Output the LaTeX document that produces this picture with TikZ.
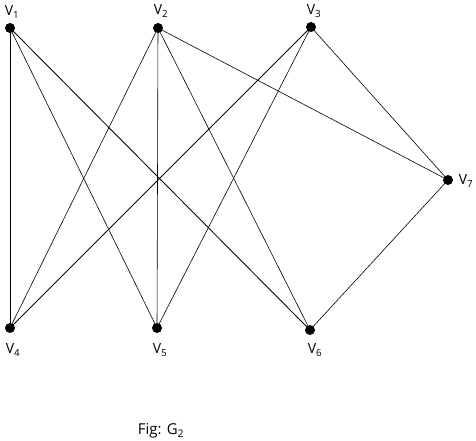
\documentclass[tikz,border=0pt]{standalone}
\usepackage{fontspec}
\setmainfont{Open Sans}
\begin{document}
\begin{tikzpicture}[x=1pt,y=-1pt,
  vert/.style={circle,fill=black,inner sep=0pt,minimum size=10pt},
  lbl/.style={font=\fontsize{14}{16}\selectfont,inner sep=0pt},
  edge/.style={line width=0.6pt},
  dbl/.style={line width=0.85pt}]
\useasboundingbox (0,0) rectangle (476,441);
\node[vert] (v1) at (10,28) {};
\node[vert] (v2) at (158,28) {};
\node[vert] (v3) at (311,27) {};
\node[vert] (v7) at (448,180) {};
\node[vert] (v4) at (10,328) {};
\node[vert] (v5) at (157,328) {};
\node[vert] (v6) at (310,330) {};
\node[lbl] (l1) at (12,12) {V\textsubscript{1}};
\node[lbl] (l2) at (161,11) {V\textsubscript{2}};
\node[lbl] (l3) at (314,11) {V\textsubscript{3}};
\node[lbl] (l7) at (466,181) {V\textsubscript{7}};
\node[lbl] (l4) at (13,350) {V\textsubscript{4}};
\node[lbl] (l5) at (160,350) {V\textsubscript{5}};
\node[lbl] (l6) at (315,350) {V\textsubscript{6}};
\node[lbl,font=\fontsize{15}{17}\selectfont] (fig) at (161,431) {Fig: G\textsubscript{2}};
\draw[edge] (v1.center) -- (v4.center);
\draw[edge] (v1.center) -- (v5.center);
\draw[dbl] (v1.center) -- (v6.center);
\draw[edge] (v2.center) -- (v4.center);
\draw[edge] (v2.center) -- (v5.center);
\draw[edge] (v2.center) -- (v6.center);
\draw[edge] (v2.center) -- (v7.center);
\draw[dbl] (v3.center) -- (v4.center);
\draw[edge] (v3.center) -- (v5.center);
\draw[edge] (v3.center) -- (v7.center);
\draw[edge] (v7.center) -- (v6.center);
\end{tikzpicture}
\end{document}
